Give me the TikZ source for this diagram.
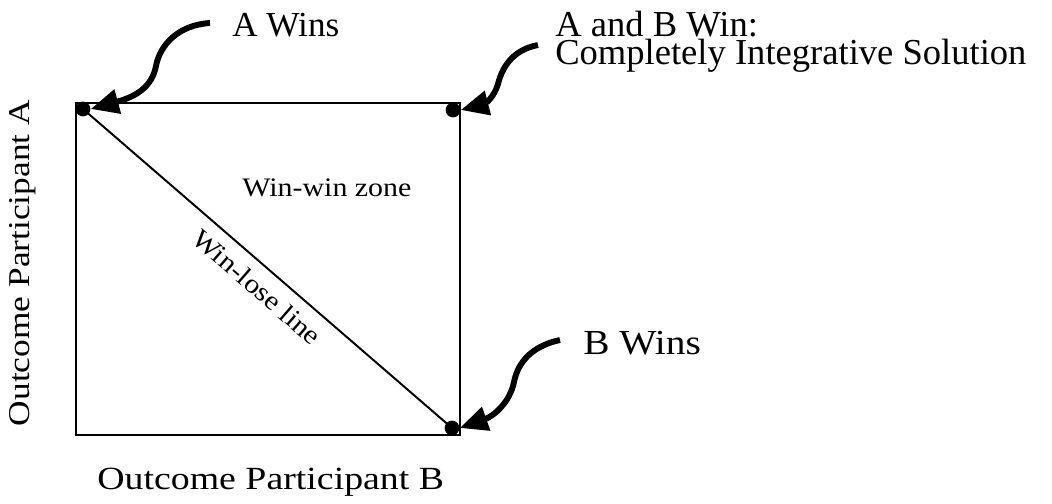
\documentclass[tikz,border=0pt]{standalone}
\usepackage{fontspec}
\setmainfont{Liberation Serif}
\newfontfamily\axisfont{Liberation Serif}[FakeStretch=1.17]
\newfontfamily\widefont{Liberation Serif}[FakeStretch=1.12]
\usetikzlibrary{arrows.meta,positioning,calc}
\tikzset{
  corner/.style={circle,fill=black,inner sep=0pt,minimum size=10.5pt},
  pointer/.style={line width=4.2pt,-{Triangle[length=20pt,width=17pt]}},
  caption/.style={font=\fontsize{25}{20}\selectfont,inner sep=0pt},
  axislabel/.style={font=\axisfont\fontsize{21.5}{24}\selectfont,inner sep=0pt},
  inlabel/.style={font=\widefont\fontsize{19}{23}\selectfont,inner sep=0pt}
}
\begin{document}
\begin{tikzpicture}[x=0.025cm,y=-0.025cm]
  \useasboundingbox (0,0) rectangle (1052,504);
  % the outcome square
  \draw[line width=1.4pt] (76,103) rectangle (460,435);
  \node[corner] (dA) at (83,109) {};
  \node[corner] (dAB) at (453,110) {};
  \node[corner] (dB) at (452,428) {};
  \draw[line width=1.4pt] (dA.center) -- (dB.center);

  % labels
  \node[caption,anchor=base west] (tA) at (232,37) {A Wins};
  \node[caption,font=\fontsize{26}{20}\selectfont,anchor=base west,align=left] (tAB) at (555,65)
    {A and B Win:\\Completely Integrative Solution};
  \node[caption,font=\widefont\fontsize{25}{28}\selectfont,anchor=base west] (tB) at (583,355) {B Wins};
  \node[inlabel,anchor=base west] (zone) at (242,197) {Win-win zone};
  \node[inlabel,rotate=-41] (wl) at (257,287) {Win-lose line};
  \node[axislabel,rotate=90,anchor=base] (yA) at (29,263) {Outcome Participant A};
  \node[axislabel,font=\axisfont\fontsize{23}{26}\selectfont,anchor=base west] (xB) at (97,489) {Outcome Participant B};

  % arrows
  \draw[pointer] (210,23) .. controls (178,25) and (160,45) .. (156,66)
    .. controls (152,86) and (138,96) .. (dA.east);
  \draw[pointer] (538,45) .. controls (512,50) and (502,68) .. (498,84)
    .. controls (494,98) and (484,104) .. (dAB.east);
  \draw[pointer] (560,340) .. controls (532,346) and (518,362) .. (514,382)
    .. controls (510,402) and (494,416) .. (dB.east);
\end{tikzpicture}
\end{document}
